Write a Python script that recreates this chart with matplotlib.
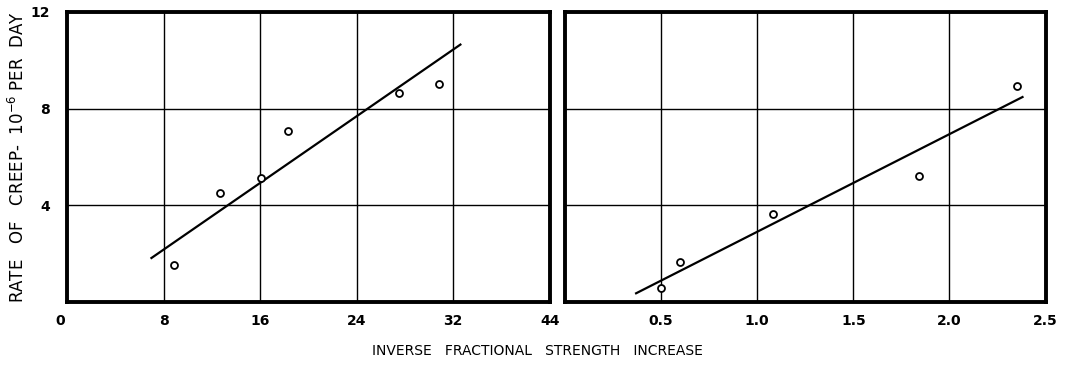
import matplotlib
matplotlib.use("Agg")
import matplotlib.pyplot as plt
import matplotlib.transforms as mtransforms

# --- DATA ---
left_x = [8.9, 12.7, 16.1, 18.3, 27.5, 30.8]
left_y = [1.52, 4.52, 5.13, 7.06, 8.65, 9.03]
left_fit_x = [7.0, 32.6]
left_fit_y = [1.82, 10.65]

right_x = [0.50, 0.60, 1.08, 1.84, 2.35]
right_y = [0.59, 1.64, 3.62, 5.20, 8.93]
right_fit_x = [0.37, 2.38]
right_fit_y = [0.36, 8.48]

left_xticks = [0, 8, 16, 24, 32, 40]
left_xticklabels = ["0", "8", "16", "24", "32", "44"]
right_xticks = [0.5, 1.0, 1.5, 2.0, 2.5]
right_xticklabels = ["0.5", "1.0", "1.5", "2.0", "2.5"]
yticks = [4, 8, 12]
ytick_labels = ["4", "8", "12"]

fig = plt.figure(figsize=(10.68, 3.69), dpi=100)
ax1 = fig.add_axes([0.0627, 0.1816, 0.452, 0.786])
ax2 = fig.add_axes([0.529, 0.1816, 0.450, 0.786])


def style(ax, xlim, grid_x, ticks, labels):
    ax.set_xlim(*xlim)
    ax.set_ylim(0, 12)
    for gx in grid_x:
        ax.axvline(gx, color="black", lw=1.0, zorder=1)
    for gy in [4, 8]:
        ax.axhline(gy, color="black", lw=1.0, zorder=1)
    for s in ax.spines.values():
        s.set_linewidth(2.8)
    ax.set_xticks(ticks)
    ax.set_xticklabels(labels, fontweight="bold", fontsize=10)
    ax.tick_params(length=0, pad=9)


style(ax1, (0, 40), [8, 16, 24, 32], left_xticks, left_xticklabels)
style(ax2, (0, 2.5), [0.5, 1.0, 1.5, 2.0], right_xticks, right_xticklabels)

ax1.set_yticks(yticks)
ax1.set_yticklabels(ytick_labels, fontweight="bold", fontsize=10)
ax1.tick_params(axis="y", pad=12)
ax2.set_yticks([])

# the "0" under the left corner sits a little left of the frame
lab0 = ax1.get_xticklabels()[0]
lab0.set_transform(lab0.get_transform() +
                   mtransforms.ScaledTranslation(-0.07, 0, fig.dpi_scale_trans))

for ax, xs, ys, fx, fy in [(ax1, left_x, left_y, left_fit_x, left_fit_y),
                           (ax2, right_x, right_y, right_fit_x, right_fit_y)]:
    ax.plot(fx, fy, color="black", lw=1.6, zorder=2)
    ax.plot(xs, ys, "o", mfc="white", mec="black", mew=1.3, ms=5, zorder=3)

fig.text(0.017, 0.575, "RATE   OF   CREEP-  10$^{-6}$ PER  DAY", rotation=90,
         ha="center", va="center", fontsize=12)
fig.text(0.503, 0.05, "INVERSE   FRACTIONAL   STRENGTH   INCREASE",
         ha="center", va="center", fontsize=10)

fig.savefig("out.png", dpi=100)
